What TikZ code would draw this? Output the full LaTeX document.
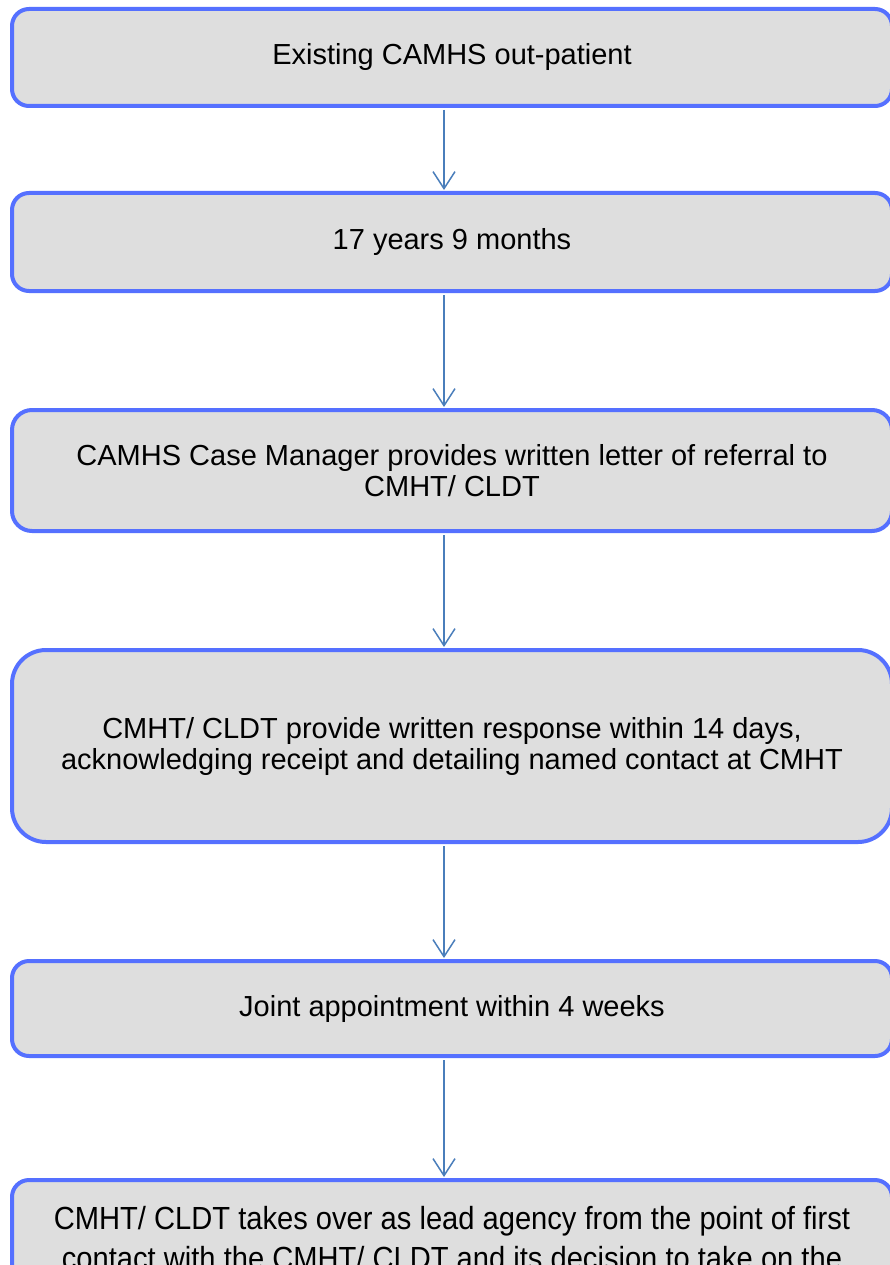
\documentclass[tikz,border=0pt]{standalone}
\usepackage{fontspec}
\setmainfont{Liberation Sans}
\newfontfamily\condensedfont[FakeStretch=0.91]{Liberation Sans}
\usetikzlibrary{arrows.meta}
\definecolor{boxborder}{HTML}{5570FF}
\definecolor{boxfill}{HTML}{DEDEDE}
\definecolor{arrowblue}{HTML}{4A7EBB}
\begin{document}
\begin{tikzpicture}[x=1pt,y=-1pt,
  flowbox/.style={draw=boxborder, fill=boxfill, line width=4pt,
    rounded corners=#1, minimum width=880pt, align=center,
    font=\fontsize{29}{31}\selectfont, inner sep=0pt},
  flowbox/.default=17pt,
  flowarrow/.style={draw=arrowblue, line width=1.5pt,
    -{Straight Barb[length=17pt,width=22pt,line width=1.5pt]},
    shorten <=2pt, shorten >=1pt}]
\useasboundingbox (0,0) rectangle (890,1265);
\clip (0,0) rectangle (890,1265);
\fill[white] (0,0) rectangle (890,1265);

\node[flowbox, minimum height=97pt] (b1) at (452,57.5) {Existing CAMHS out-patient};
\node[flowbox, minimum height=98pt] (b2) at (452,242) {17 years 9 months};
\node[flowbox=20pt, minimum height=121pt] (b3) at (452,470.5)
  {CAMHS Case Manager provides written letter of referral to\\CMHT/ CLDT};
\node[flowbox=34pt, minimum height=192pt] (b4) at (452,746)
  {CMHT/ CLDT provide written response within 14 days,\\acknowledging receipt and detailing named contact at CMHT};
\node[flowbox, minimum height=95pt] (b5) at (452,1008.5) {Joint appointment within 4 weeks};
\node[flowbox, anchor=north, inner ysep=26pt,
  font=\condensedfont\fontsize{32}{40}\selectfont] (b6) at (452,1178)
  {CMHT/ CLDT takes over as lead agency from the point of first\\contact with the CMHT/ CLDT and its decision to take on the};

\draw[flowarrow] ([xshift=-8pt]b1.south) -- ([xshift=-8pt]b2.north);
\draw[flowarrow] ([xshift=-8pt]b2.south) -- ([xshift=-8pt]b3.north);
\draw[flowarrow] ([xshift=-8pt]b3.south) -- ([xshift=-8pt]b4.north);
\draw[flowarrow] ([xshift=-8pt]b4.south) -- ([xshift=-8pt]b5.north);
\draw[flowarrow] ([xshift=-8pt]b5.south) -- ([xshift=-8pt]b6.north);
\end{tikzpicture}
\end{document}
